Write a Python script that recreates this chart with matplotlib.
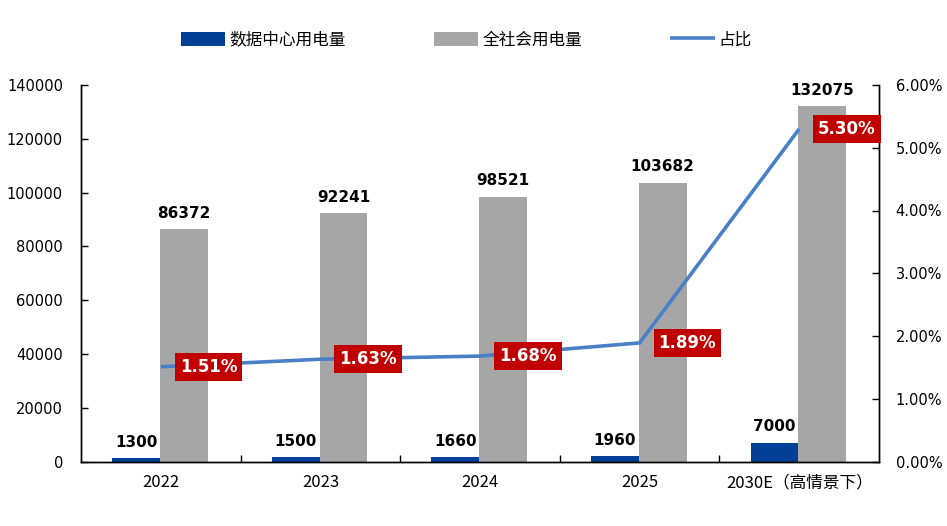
import matplotlib
matplotlib.use("Agg")
import matplotlib.pyplot as plt
import numpy as np
from matplotlib.ticker import FuncFormatter, FixedLocator

plt.rcParams['font.family'] = ['DejaVu Sans', 'Noto Sans CJK SC']

categories = ["2022", "2023", "2024", "2025", "2030E（高情景下）"]
dc_power = [1300, 1500, 1660, 1960, 7000]
total_power = [86372, 92241, 98521, 103682, 132075]
share_pct = [1.51, 1.63, 1.68, 1.89, 5.30]

series_names = ["数据中心用电量", "全社会用电量", "占比"]

BLUE = "#023F96"
GRAY = "#A6A6A6"
LINE = "#4A80C6"
RED = "#C00000"

fig = plt.figure(figsize=(9.47, 5.26), dpi=100)
ax = fig.add_axes([81/947, 1-461.5/526, (879-81)/947, (461.5-85)/526])
ax2 = ax.twinx()

x = np.arange(len(categories))
w = 0.3
b1 = ax.bar(x - 0.155, dc_power, width=w, color=BLUE, label=series_names[0], zorder=2)
b2 = ax.bar(x + 0.145, total_power, width=w, color=GRAY, label=series_names[1], zorder=2)

ax.bar_label(b1, labels=[f"{v}" for v in dc_power], padding=6, fontsize=11,
             fontweight='bold', color='black')
ax.bar_label(b2, labels=[f"{v}" for v in total_power], padding=6, fontsize=11,
             fontweight='bold', color='black')

ax.set_xlim(-0.5, len(categories) - 0.5)
ax.set_ylim(0, 140000)
ax.set_yticks(np.arange(0, 140001, 20000))
ax.tick_params(axis='y', direction='in', length=5, width=1, labelsize=10.5, pad=13)
ax.set_xticks(x)
ax.set_xticklabels(categories, fontsize=12, family=['Noto Sans CJK SC', 'DejaVu Sans'])
ax.tick_params(axis='x', which='major', length=0, pad=9)
ax.xaxis.set_minor_locator(FixedLocator(np.arange(0.5, len(categories) - 1, 1.0)))
ax.tick_params(axis='x', which='minor', direction='in', length=5, width=1)

ax2.plot(x, [v / 100 for v in share_pct], color=LINE, lw=2.6, label=series_names[2],
         solid_capstyle='butt', zorder=3)
ax2.set_ylim(0, 0.06)
ax2.set_yticks(np.arange(0, 0.0601, 0.01))
ax2.yaxis.set_major_formatter(FuncFormatter(lambda v, p: f"{v*100:.2f}%"))
ax2.tick_params(axis='y', direction='in', length=5, width=1, labelsize=10.5, pad=12)

for xi, v in zip(x, share_pct):
    ax2.annotate(f"{v:.2f}%", xy=(xi, v / 100), xytext=(19, 0), textcoords='offset pixels',
                 ha='left', va='center', fontsize=12, fontweight='bold', color='white',
                 bbox=dict(boxstyle='square,pad=0.3', fc=RED, ec='none'), zorder=5)

for a in (ax, ax2):
    a.spines['top'].set_visible(False)
    for s in ('left', 'right', 'bottom'):
        a.spines[s].set_color('black')
        a.spines[s].set_linewidth(1)

h1, l1 = ax.get_legend_handles_labels()
h2, l2 = ax2.get_legend_handles_labels()
fig.legend(h1 + h2, l1 + l2, loc='center left', bbox_to_anchor=(181/947, 1 - 40/526),
           ncol=3, frameon=False, borderpad=0, borderaxespad=0,
           handlelength=2.65, handleheight=0.95, handletextpad=0.25, columnspacing=5.3,
           prop={'family': ['Noto Sans CJK SC', 'DejaVu Sans'], 'size': 12})

fig.savefig("out.png", dpi=100)
